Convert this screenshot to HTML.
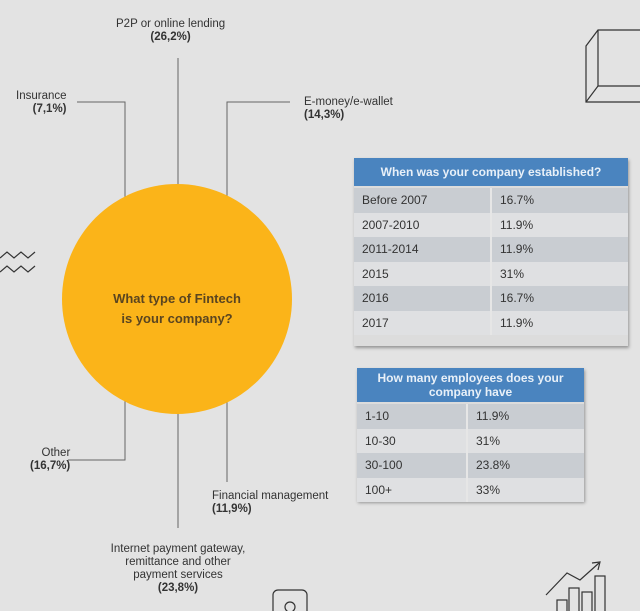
<!DOCTYPE html>
<html><head><meta charset="utf-8">
<style>
body{margin:0;width:640px;height:611px;background:#e3e3e3;overflow:hidden;font-family:"Liberation Sans",sans-serif;}
svg{position:absolute;left:0;top:0}
.tbl{position:absolute;box-shadow:1px 2px 3px rgba(0,0,0,0.35);background:#dcdcdc}
.hd{background:#4a84bf;color:#e8f0f8;font-weight:bold;text-align:center;font-size:12px}
.row{display:flex;height:24.5px;line-height:24.5px;font-size:12px;color:#333}
.row div{padding-left:8px}
.row .c1{border-right:2px solid #e6e6e6}
.row.a{background:#c9cdd2}
.row.b{background:#dfe0e2}
.lbl{position:absolute;font-size:11.5px;color:#333;line-height:13px}
</style></head><body>
<svg width="640" height="611">
  <g stroke="#666" stroke-width="1" fill="none">
    <polyline points="77,102 125,102 125,212"/>
    <line x1="178" y1="58" x2="178" y2="206"/>
    <polyline points="290,102 227,102 227,212"/>
    <polyline points="68,460 125,460 125,383"/>
    <line x1="227" y1="383" x2="227" y2="482"/>
    <line x1="178" y1="393" x2="178" y2="528"/>
  </g>
  <circle cx="177" cy="299" r="115" fill="#fbb419"/>
  <text x="177" y="303" text-anchor="middle" font-size="13" font-weight="bold" fill="#5a4520" font-family="Liberation Sans">What type of Fintech</text>
  <text x="177" y="323" text-anchor="middle" font-size="13" font-weight="bold" fill="#5a4520" font-family="Liberation Sans">is your company?</text>
  <g stroke="#333" stroke-width="1.2" fill="none">
    <polyline points="0,258 7,252 14,258 21,252 28,258 35,252"/>
    <polyline points="0,272 7,266 14,272 21,266 28,272 35,266"/>
  </g>
  <g stroke="#333" stroke-width="1.2" fill="none">
    <polyline points="640,30 598,30 586,46 586,102 640,102"/>
    <polyline points="598,30 598,86 640,86"/>
    <line x1="598" y1="86" x2="586" y2="102"/>
  </g>
  <g stroke="#333" stroke-width="1.2" fill="none">
    <rect x="273" y="590" width="34" height="30" rx="5"/>
    <circle cx="290" cy="607" r="5"/>
  </g>
  <g stroke="#333" stroke-width="1.2" fill="none">
    <polyline points="546,595 567,573 580,580 599,563"/>
    <polyline points="592,563 600,562 598,570"/>
    <rect x="557" y="600" width="10" height="15"/>
    <rect x="569" y="588" width="10" height="27"/>
    <rect x="582" y="592" width="10" height="23"/>
    <rect x="595" y="576" width="10" height="39"/>
  </g>
</svg>
<div class="lbl" style="left:116px;top:18px;text-align:center">P2P or online lending<br><b style="font-weight:bold">(26,2%)</b></div>
<div class="lbl" style="left:16px;top:90px;text-align:right">Insurance<br><b>(7,1%)</b></div>
<div class="lbl" style="left:304px;top:96px">E-money/e-wallet<br><b>(14,3%)</b></div>
<div class="lbl" style="left:30px;top:447px;text-align:right">Other<br><b>(16,7%)</b></div>
<div class="lbl" style="left:212px;top:490px">Financial management<br><b>(11,9%)</b></div>
<div class="lbl" style="left:98px;top:543px;text-align:center;width:160px">Internet payment gateway,<br>remittance and other<br>payment services<br><b>(23,8%)</b></div>

<div class="tbl" style="left:354px;top:158px;width:274px;height:188px">
  <div class="hd" style="height:28px;line-height:28px;margin-bottom:2px">When was your company established?</div>
  <div class="row a"><div class="c1" style="width:128px">Before 2007</div><div>16.7%</div></div>
  <div class="row b"><div class="c1" style="width:128px">2007-2010</div><div>11.9%</div></div>
  <div class="row a"><div class="c1" style="width:128px">2011-2014</div><div>11.9%</div></div>
  <div class="row b"><div class="c1" style="width:128px">2015</div><div>31%</div></div>
  <div class="row a"><div class="c1" style="width:128px">2016</div><div>16.7%</div></div>
  <div class="row b"><div class="c1" style="width:128px">2017</div><div>11.9%</div></div>
</div>

<div class="tbl" style="left:357px;top:368px;width:227px;height:133px">
  <div class="hd" style="height:34px;line-height:14px;padding-top:3px;box-sizing:border-box;margin-bottom:2px">How many employees does your<br>company have</div>
  <div class="row a"><div class="c1" style="width:101px">1-10</div><div>11.9%</div></div>
  <div class="row b"><div class="c1" style="width:101px">10-30</div><div>31%</div></div>
  <div class="row a"><div class="c1" style="width:101px">30-100</div><div>23.8%</div></div>
  <div class="row b"><div class="c1" style="width:101px">100+</div><div>33%</div></div>
</div>
</body></html>
